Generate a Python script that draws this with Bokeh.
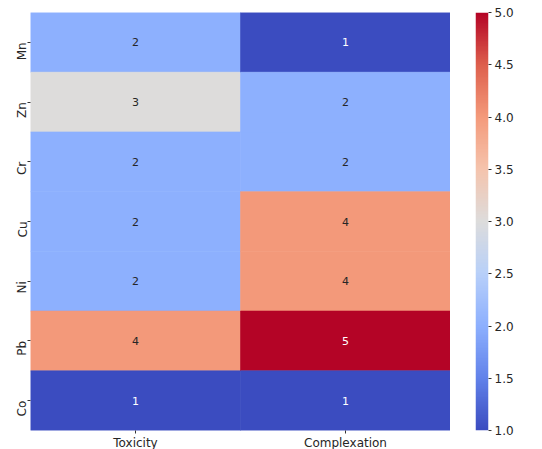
import numpy as np
from bokeh.plotting import figure
from bokeh.layouts import row
from bokeh.models import ColumnDataSource, LinearColorMapper, FixedTicker, FactorRange, NumeralTickFormatter, Range1d
from bokeh.embed import file_html
from bokeh.resources import INLINE
from bokeh.core.properties import value

metals = ["Mn", "Zn", "Cr", "Cu", "Ni", "Pb", "Co"]
criteria = ["Toxicity", "Complexation"]
toxicity = [2, 3, 2, 2, 2, 4, 1]
complexation = [1, 2, 2, 4, 4, 5, 1]
cbar_ticks = [1.0, 1.5, 2.0, 2.5, 3.0, 3.5, 4.0, 4.5, 5.0]
vmin, vmax = 1, 5

# coolwarm palette built from anchor colours
anchors = [(0.0, (59, 76, 192)), (0.125, (98, 130, 234)), (0.25, (141, 176, 254)),
           (0.375, (184, 208, 249)), (0.5, (221, 220, 220)), (0.625, (245, 196, 173)),
           (0.75, (244, 154, 123)), (0.875, (222, 96, 77)), (1.0, (180, 4, 38))]
palette = []
for i in range(256):
    t = i / 255
    for (t0, c0), (t1, c1) in zip(anchors[:-1], anchors[1:]):
        if t0 <= t <= t1:
            f = (t - t0) / (t1 - t0)
            c = [round(a + (b - a) * f) for a, b in zip(c0, c1)]
            palette.append("#%02x%02x%02x" % tuple(c))
            break

xs, ys, vals, tcol = [], [], [], []
for crit, series in zip(criteria, [toxicity, complexation]):
    for m, v in zip(metals, series):
        xs.append(crit)
        ys.append(m)
        vals.append(v)
        tcol.append("#ffffff" if v in (1, 5) else "#262626")
src = ColumnDataSource(dict(x=xs, y=ys, v=vals, label=[str(v) for v in vals], tc=tcol))

mapper = LinearColorMapper(palette=palette, low=vmin, high=vmax)

p = figure(x_range=FactorRange(*criteria), y_range=FactorRange(*reversed(metals)),
           frame_width=420, frame_height=418, output_backend="svg", toolbar_location=None,
           min_border_left=30, min_border_top=12, min_border_right=0, min_border_bottom=0)
p.rect(x="x", y="y", width=1, height=1, source=src,
       fill_color={"field": "v", "transform": mapper},
       line_color={"field": "v", "transform": mapper}, line_width=0.6)
p.text(x="x", y="y", text="label", source=src, text_color="tc", text_align="center",
       text_baseline="middle", text_font_size="11px", text_font=value("DejaVu Sans"))

p.outline_line_color = None
p.grid.grid_line_color = None
for ax in (p.xaxis, p.yaxis):
    ax.axis_line_color = None
    ax.major_tick_out = 3
    ax.major_tick_in = 0
    ax.major_tick_line_color = "#333333"
    ax.major_label_text_font = "DejaVu Sans"
    ax.major_label_text_font_size = "12px"
    ax.major_label_text_color = "#262626"
p.xaxis.major_label_standoff = 2
p.yaxis.major_label_standoff = 5
p.yaxis.major_label_orientation = 1.5708
p.x_range.range_padding = 0
p.y_range.range_padding = 0

# colour bar as a narrow figure
grad = np.linspace(vmin, vmax, 256).reshape(256, 1)
cbf = figure(x_range=Range1d(0, 1), y_range=Range1d(vmin, vmax), y_axis_location="right",
             frame_width=13, frame_height=418, output_backend="svg", toolbar_location=None,
             min_border_left=25, min_border_top=12, min_border_right=0, min_border_bottom=15)
cbf.image(image=[grad], x=0, y=vmin, dw=1, dh=vmax - vmin, color_mapper=mapper)
cbf.xaxis.visible = False
cbf.grid.grid_line_color = None
cbf.outline_line_color = None
cbf.yaxis.ticker = FixedTicker(ticks=cbar_ticks)
cbf.yaxis.formatter = NumeralTickFormatter(format="0.0")
cbf.yaxis.axis_line_color = None
cbf.yaxis.minor_tick_line_color = None
cbf.yaxis.major_tick_out = 3
cbf.yaxis.major_tick_in = 0
cbf.yaxis.major_tick_line_color = "#333333"
cbf.yaxis.major_label_text_font = "DejaVu Sans"
cbf.yaxis.major_label_text_font_size = "12px"
cbf.yaxis.major_label_text_color = "#262626"
cbf.yaxis.major_label_standoff = 3

layout = row(p, cbf, spacing=0)
open("out.html", "w").write(file_html(layout, INLINE))
